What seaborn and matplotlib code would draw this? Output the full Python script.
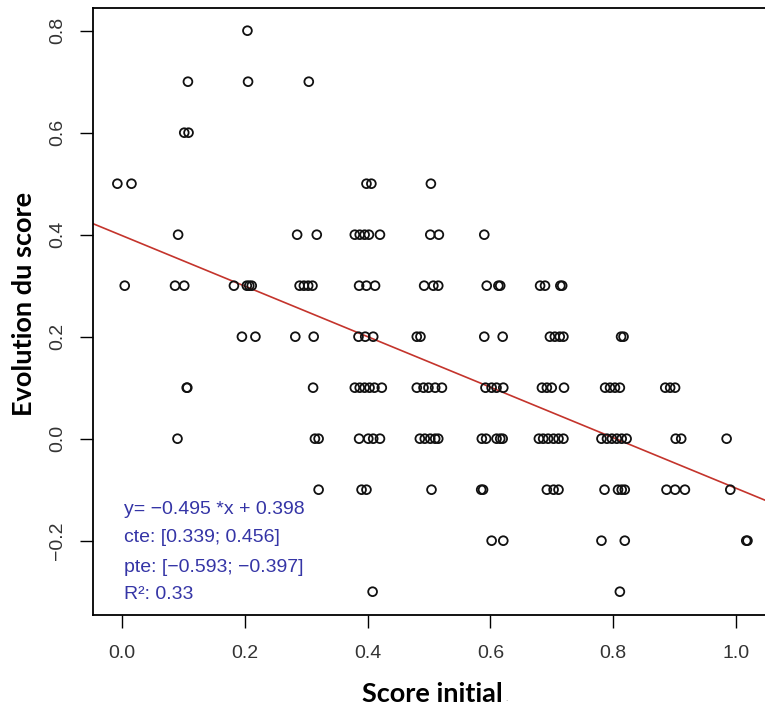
import matplotlib
matplotlib.use("Agg")
import matplotlib.pyplot as plt
import seaborn as sns
import pandas as pd

# ---- data ----
lvl_08 = [0.204]
lvl_07 = [0.107, 0.205, 0.304]
lvl_06 = [0.101, 0.108]
lvl_05 = [-0.008, 0.015, 0.398, 0.406, 0.503]
lvl_04 = [0.091, 0.285, 0.317, 0.379, 0.387, 0.395, 0.402, 0.420, 0.502, 0.516, 0.590]
lvl_03 = [0.004, 0.086, 0.101, 0.182, 0.203, 0.207, 0.211, 0.289, 0.296, 0.303, 0.310,
          0.386, 0.398, 0.412, 0.492, 0.507, 0.515, 0.594, 0.613, 0.616, 0.681, 0.689,
          0.714, 0.717]
lvl_02 = [0.195, 0.217, 0.282, 0.312, 0.385, 0.396, 0.409, 0.480, 0.486, 0.590, 0.620,
          0.697, 0.705, 0.713, 0.719, 0.813, 0.817]
lvl_01 = [0.105, 0.106, 0.311, 0.379, 0.387, 0.395, 0.403, 0.411, 0.423, 0.480, 0.491,
          0.499, 0.510, 0.521, 0.592, 0.602, 0.610, 0.621, 0.684, 0.692, 0.700, 0.720,
          0.787, 0.795, 0.803, 0.811, 0.885, 0.893, 0.901]
lvl_00 = [0.090, 0.314, 0.320, 0.386, 0.401, 0.409, 0.420, 0.485, 0.493, 0.502, 0.510,
          0.515, 0.586, 0.593, 0.610, 0.616, 0.620, 0.679, 0.686, 0.694, 0.703, 0.711,
          0.719, 0.781, 0.790, 0.798, 0.806, 0.814, 0.822, 0.902, 0.911, 0.985]
lvl_m01 = [0.320, 0.390, 0.398, 0.504, 0.585, 0.588, 0.692, 0.703, 0.711, 0.786, 0.808,
           0.814, 0.819, 0.887, 0.901, 0.917, 0.991]
lvl_m02 = [0.602, 0.621, 0.781, 0.819, 1.017, 1.019]
lvl_m03 = [0.408, 0.811]

levels = [0.8, 0.7, 0.6, 0.5, 0.4, 0.3, 0.2, 0.1, 0.0, -0.1, -0.2, -0.3]
level_x = [lvl_08, lvl_07, lvl_06, lvl_05, lvl_04, lvl_03, lvl_02, lvl_01, lvl_00,
           lvl_m01, lvl_m02, lvl_m03]

slope = -0.495
intercept = 0.398
annot_lines = ["y= \u22120.495 *x + 0.398",
               "cte: [0.339; 0.456]",
               "pte: [\u22120.593; \u22120.397]",
               "R\u00b2: 0.33"]
x_ticks = [0.0, 0.2, 0.4, 0.6, 0.8, 1.0]
y_ticks = [-0.2, 0.0, 0.2, 0.4, 0.6, 0.8]
x_label = "Score initial"
y_label = "Evolution du score"

xs, ys = [], []
for lv, xl in zip(levels, level_x):
    xs.extend(xl)
    ys.extend([lv] * len(xl))
df = pd.DataFrame({"score_initial": xs, "evolution": ys})

# ---- figure ----
sns.set_style("white")
plt.rcParams["font.family"] = ["Liberation Sans", "DejaVu Sans"]

W, H = 765, 713
fig = plt.figure(figsize=(W / 100, H / 100), dpi=100)
left_px, right_px, top_px, bottom_px = 92.7, 773.0, 8.3, 615.0
ax = fig.add_axes([left_px / W, 1 - bottom_px / H,
                   (right_px - left_px) / W, (bottom_px - top_px) / H])

sns.scatterplot(data=df, x="score_initial", y="evolution", ax=ax, s=40,
                color="black", facecolors="none", edgecolor="#111111",
                linewidth=1.3, legend=False, zorder=3)

ax.axline((0, intercept), slope=slope, color="#c4342c", lw=1.2, zorder=2)

ax.set_xlim(-0.0482, 1.0606)
ax.set_ylim(-0.3457, 0.8439)
ax.set_xticks(x_ticks)
ax.set_yticks(y_ticks)
ax.set_xticklabels([f"{v:.1f}" for v in x_ticks])
ax.set_yticklabels([f"{v:.1f}".replace("-", "\u2212") for v in y_ticks])

ax.tick_params(axis="both", direction="out", length=9.4, width=1.0, color="black",
               labelsize=14, labelcolor="#333333", bottom=True, left=True)
ax.tick_params(axis="x", pad=12)
ax.tick_params(axis="y", pad=10, labelrotation=90)
for lab in ax.get_yticklabels():
    lab.set_va("center")

for side in ["left", "bottom", "top"]:
    ax.spines[side].set_color("black")
    ax.spines[side].set_linewidth(1.3)
ax.spines["right"].set_visible(False)

ax.set_xlabel(x_label, family=["Lato", "DejaVu Sans"], fontweight="bold",
              fontsize=19.5, color="black", va="baseline")
ax.xaxis.set_label_coords(0.5, (bottom_px - 701.5) / (bottom_px - top_px))
ax.set_ylabel(y_label, family=["Lato", "DejaVu Sans"], fontweight="bold",
              fontsize=19.5, color="black", va="center")
ax.yaxis.set_label_coords((24 - left_px) / (right_px - left_px),
                          (bottom_px - 303.5) / (bottom_px - top_px))

# small stray dot after the x label
fig.text(505 / W, 1 - 701 / H, ".", fontsize=6, color="#888888", ha="left", va="baseline")

annot_y = [-0.1476, -0.2033, -0.2608, -0.3143]
for txt, yy in zip(annot_lines, annot_y):
    ax.text(0.002, yy, txt, color="#3535a6", fontsize=14, ha="left", va="baseline", zorder=4)

fig.savefig("out.png", dpi=100)
